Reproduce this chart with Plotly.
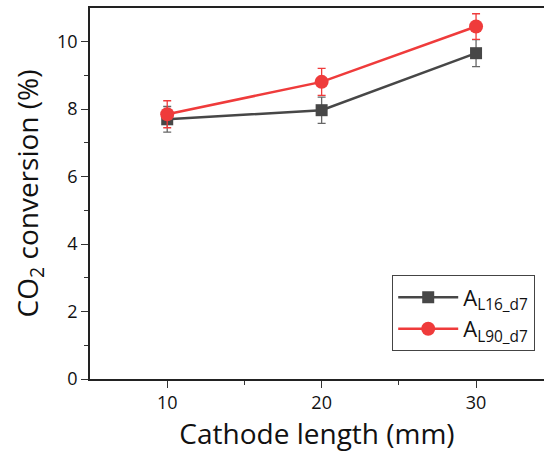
import plotly.graph_objects as go

# Cathode length (mm) and CO2 conversion (%) with error bars
cathode_length = [10, 20, 30]
conv_L16 = [7.70, 7.97, 9.66]
err_L16 = [0.38, 0.39, 0.40]
conv_L90 = [7.85, 8.81, 10.45]
err_L90 = [0.40, 0.40, 0.38]

dark = "#474747"
red = "#ef3b3b"
font = "Open Sans"

fig = go.Figure()
fig.add_trace(go.Scatter(
    x=cathode_length, y=conv_L16, mode="lines+markers",
    name="A<sub>L16_d7</sub>",
    line=dict(color=dark, width=2.5),
    marker=dict(symbol="square", size=12, color=dark),
    error_y=dict(type="data", array=err_L16, color="#666666", thickness=1.3, width=4),
))
fig.add_trace(go.Scatter(
    x=cathode_length, y=conv_L90, mode="lines+markers",
    name="A<sub>L90_d7</sub>",
    line=dict(color=red, width=2.5),
    marker=dict(symbol="circle", size=14, color=red),
    error_y=dict(type="data", array=err_L90, color=red, thickness=1.3, width=4),
))

fig.update_layout(
    width=544, height=459,
    margin=dict(l=90, r=0, t=8, b=80),
    paper_bgcolor="white", plot_bgcolor="white",
    font=dict(family=font, color="#222222"),
    showlegend=True,
    legend=dict(
        x=0.665, y=0.28, xanchor="left", yanchor="top",
        bordercolor="#444444", borderwidth=1.3,
        bgcolor="white",
        font=dict(size=22, family=font, color="#111111"),
        itemwidth=60,
        tracegroupgap=5,
    ),
    xaxis=dict(
        range=[5, 34.4],
        tickvals=[10, 20, 30],
        ticks="outside", ticklen=7, tickwidth=1.3, tickcolor="#333333",
        minor=dict(tickvals=[15, 25], ticks="outside", ticklen=4, tickwidth=1.3, tickcolor="#333333"),
        showline=True, linecolor="#222222", linewidth=1.5, mirror=True,
        showgrid=False, zeroline=False,
        tickfont=dict(size=18, family=font, color="#111111"),
        title=dict(text="Cathode length (mm)", font=dict(size=28, family=font, color="#111111"), standoff=8),
    ),
    yaxis=dict(
        range=[0, 11],
        tickvals=[0, 2, 4, 6, 8, 10],
        ticks="outside", ticklen=7, tickwidth=1.3, tickcolor="#333333",
        minor=dict(tickvals=[1, 3, 5, 7, 9], ticks="outside", ticklen=4, tickwidth=1.3, tickcolor="#333333"),
        showline=True, linecolor="#222222", linewidth=1.5,
        showgrid=False, zeroline=False,
        tickfont=dict(size=18, family=font, color="#111111"),
        title=dict(text="CO<sub>2</sub> conversion (%)", font=dict(size=28, family=font, color="#111111"), standoff=10),
    ),
)

fig.write_html("out.html")
